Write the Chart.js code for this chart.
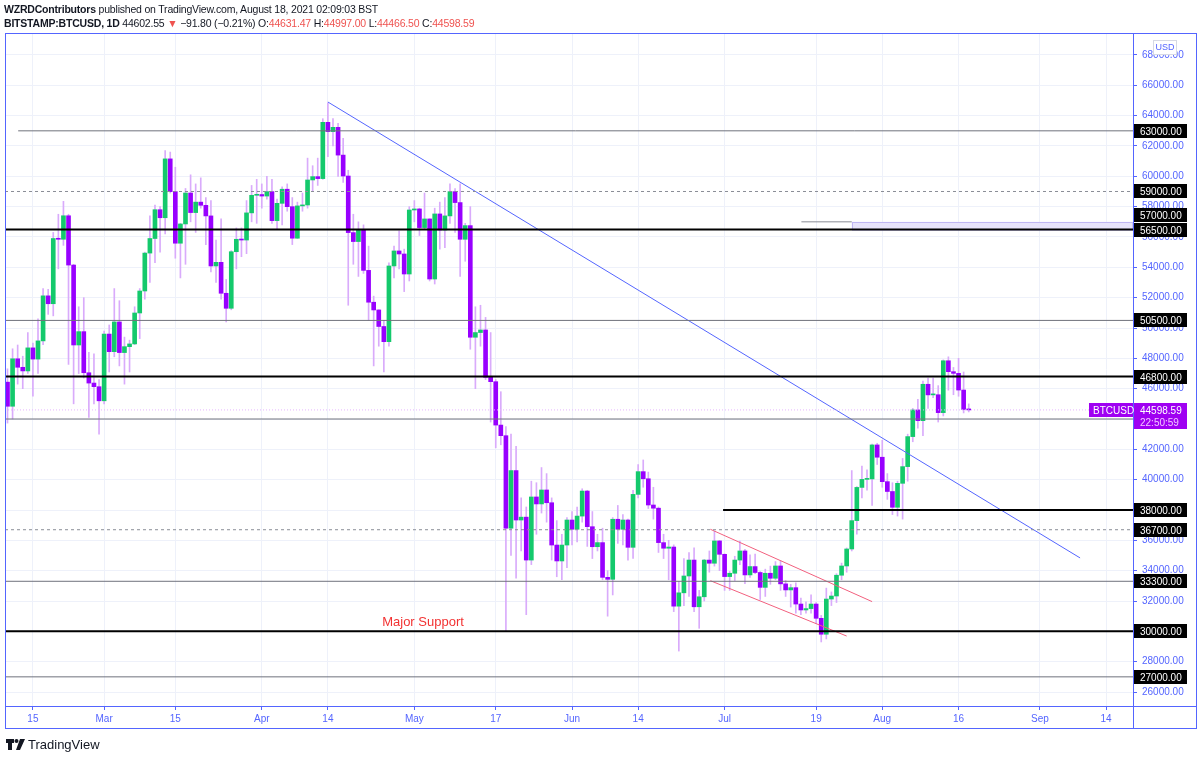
<!DOCTYPE html>
<html lang="en">
<head>
<meta charset="UTF-8">
<title>BITSTAMP:BTCUSD, 1D</title>
<script src="https://cdn.jsdelivr.net/npm/chart.js"></script>
<style>
    body {
        margin: 0;
        background: #fff;
        font-family: "Liberation Sans", Arial, sans-serif;
    }
    .wrap {
        position: relative;
        width: 1200px;
        height: 759px;
    }
    .head {
        position: absolute;
        left: 4px;
        font-size: 10.5px;
        letter-spacing: -0.2px;
        line-height: 14px;
        color: #131722;
        white-space: nowrap;
    }
    .head b { font-weight: bold; }
    .red { color: #ef5350; }
    .logo {
        position: absolute;
        left: 6px;
        top: 737px;
        font-size: 13px;
        color: #131722;
        display: flex;
        align-items: center;
        gap: 3px;
    }
</style>
</head>
<body>
<div class="wrap">
    <canvas id="chart" width="1200" height="759"></canvas>
    <div class="head" style="top:2px"><b>WZRDContributors</b> published on TradingView.com, August 18, 2021 02:09:03 BST</div>
    <div class="head" style="top:16px"><b>BITSTAMP:BTCUSD, 1D</b> 44602.55 <span class="red">▼</span> −91.80 (−0.21%) O:<span class="red">44631.47</span> H:<span class="red">44997.00</span> L:<span class="red">44466.50</span> C:<span class="red">44598.59</span></div>
    <div class="logo">
        <svg width="19" height="11" viewBox="0 0 19 11"><path d="M0 0h8v4H6v7H2V4H0z M14 0h5l-5 11h-4z" fill="#131722"/><circle cx="10.5" cy="2" r="2" fill="#131722"/></svg>
        <span>TradingView</span>
    </div>
</div>
<script>
    // days counted from Feb 15 2021; first candle is Feb 10
    const firstDay = -5;

    // daily OHLC, Feb 10 .. Aug 18 2021
    const opens = [
        46430,44840,47970,47410,47170,48690,47950,49150,52120,51600,55900,55850,57400,54150,48880,49760,47050,46370,46130,
        45200,49600,48440,50400,48380,48770,48950,50990,52440,54940,55900,57800,57270,61150,58990,55590,56860,58900,57610,58300,58090,57390,54090,54330,52290,51300,55030,55850,55800,57590,58750,
        58800,58700,58990,57080,58220,59150,58000,55920,58050,58110,59760,59980,59850,63560,62950,63230,61400,60020,56290,55700,56460,53800,51700,51190,50100,49100,54090,55080,54880,53560,
        57780,57850,56620,57190,53230,57520,56460,57390,58990,58270,55850,56750,49390,49700,49870,46750,46460,43600,42900,36800,40600,37340,37530,34700,38860,38400,39320,38480,35690,34640,35690,
        37340,36730,37600,39250,36900,35580,35850,33560,33430,37390,36730,37340,35540,39030,40530,40060,38330,38120,35850,35480,35560,31660,32540,33650,34700,31620,32280,34700,34490,35960,
        35080,33610,33830,34700,35300,33720,34270,33880,32900,33830,33500,34310,33130,32730,32880,31800,31410,31500,31800,30860,29810,32130,32330,33700,34310,35430,37300,39490,40020,40050,42290,
        41480,39870,39220,38180,39760,40860,42840,44600,43890,46290,45590,45600,44420,47840,47120,47010,45910,44631.47
    ];
    const highs = [
        47310,48630,48880,48140,49700,49000,50600,52600,52550,56300,57500,58350,57500,54200,51400,52000,48400,48300,46600,
        49800,50200,52600,51800,49400,49200,51400,52600,55000,57400,58100,58000,61700,61600,60600,56900,59200,60100,59500,59900,58600,58400,55800,57200,53200,55100,56600,56600,58400,59400,59800,
        59500,60000,59800,58500,59300,59500,58600,58300,58900,61200,60700,61200,63800,64850,63800,63500,62500,60400,57500,57000,56800,55400,52100,51200,50500,54300,55400,56400,55200,58000,
        58400,57900,58900,57200,57900,58300,58600,59500,59200,59500,56900,58000,51400,51500,50700,49700,46600,45800,43500,43000,42200,38800,38200,39900,39800,40800,40400,38800,37300,36400,37500,
        37900,38200,39400,39300,37900,36400,36800,34000,37500,38300,37700,37400,39300,41000,41300,40500,39500,38200,36400,36000,35700,33300,34800,35200,35500,32700,34750,35300,36600,36000,
        35100,33950,34950,35950,35400,35050,35100,33950,34100,34300,34600,34650,33350,33100,33200,32200,31950,32400,31900,31050,32850,32600,33800,34500,35500,40600,39550,40900,40650,42350,42400,
        42600,40400,39800,39900,41400,43000,44700,45300,46500,46700,46700,46200,47900,48100,47400,48000,47100,44997.00
    ];
    const lows = [
        43730,44000,46300,46000,47000,45500,47000,48900,50900,50800,53900,55450,47600,45000,47000,46700,44100,45000,43000,
        45000,47100,48100,47500,46300,47100,48900,49300,51900,53000,54300,55000,56200,58900,54600,53300,54200,57000,56300,57900,55500,53700,53000,51900,50400,51200,53900,54700,54900,57000,56900,
        57900,58500,56900,56500,56800,57700,55500,55900,57700,57900,59000,59400,59800,61300,62000,60000,59600,51500,54200,53400,53600,50500,47500,48800,47100,48800,53300,53900,52400,53100,
        57000,56100,56500,53100,52900,55200,55300,56900,56300,53400,54400,48600,46000,48800,46600,43800,42100,42300,30000,35000,33500,35300,31100,34400,36400,37800,37200,34700,33600,33400,34200,
        35700,35900,37200,35600,34800,35300,33400,31000,32400,35800,35700,34700,34800,38800,39500,38100,37400,35200,34800,33400,31300,28700,31700,32300,31300,30200,32000,33900,34300,34000,
        32700,32700,33350,34400,33150,33550,33800,32100,32300,33100,33400,32700,32300,31600,31200,31100,31200,31200,30500,29300,29500,31700,31900,33400,33900,35300,36400,38800,39300,38300,41000,
        39500,38700,37700,37600,37400,39900,42500,43400,42900,44700,45400,43800,44200,45900,45600,45500,44400,44466.50
    ];
    const closes = [
        44840,47970,47410,47170,48690,47950,49150,52120,51600,55900,55850,57400,54150,48880,49760,47050,46370,46130,45200,
        49600,48440,50400,48380,48770,48950,50990,52440,54940,55900,57800,57270,61150,58990,55590,56860,58900,57610,58300,58090,57390,54090,54330,52290,51300,55030,55850,55800,57590,58750,58800,
        58700,58990,57080,58220,59150,58000,55920,58050,58110,59760,59980,59850,63560,62950,63230,61400,60020,56290,55700,56460,53800,51700,51190,50100,49100,54090,55080,54880,53560,57780,
        57850,56620,57190,53230,57520,56460,57390,58990,58270,55850,56750,49390,49700,49870,46750,46460,43600,42900,36800,40600,37340,37530,34700,38860,38400,39320,38480,35690,34640,35690,37340,
        36730,37600,39250,36900,35580,35850,33560,33430,37390,36730,37340,35540,39030,40530,40060,38330,38120,35850,35480,35560,31660,32540,33650,34700,31620,32280,34700,34490,35960,35080,
        33610,33830,34700,35300,33720,34270,33880,32900,33830,33500,34310,33130,32730,32880,31800,31410,31500,31800,30860,29810,32130,32330,33700,34310,35430,37300,39490,40020,40050,42290,41480,
        39870,39220,38180,39760,40860,42840,44600,43890,46290,45590,45600,44420,47840,47120,47010,45910,44630,44598.59
    ];
    const lastPrice = 44598.59;
    const countdown = '22:50:59';

    // time axis
    const tickDays = [0, 14, 28, 45, 58, 75, 91, 106, 119, 136, 154, 167, 182, 198, 211];
    const tickLabels = ['15', 'Mar', '15', 'Apr', '14', 'May', '17', 'Jun', '14', 'Jul', '19', 'Aug', '16', 'Sep', '14'];

    // price axis
    const priceTicks = [26000, 28000, 30000, 32000, 34000, 36000, 38000, 40000, 42000, 44000, 46000,
        48000, 50000, 52000, 54000, 56000, 58000, 60000, 62000, 64000, 66000, 68000];

    // drawn levels and lines
    const levels = [63000, 59000, 57000, 56500, 50500, 46800, 44000, 38000, 36700, 33300, 30000, 27000];
    const trendLine = [[58, 64900], [205.9, 34840]];
    const channelTop = [[133.2, 36730], [165.0, 31960]];
    const channelBottom = [[133.2, 33340], [160.0, 29690]];
    const zone = {from: 161, top: 57000, bottom: 56500};
    const supportNote = {text: 'Major Support', day: 76.7, price: 30350};

    const xMin = -5.49, xMax = 216.3;
    const yMin = 25078, yMax = 69450;

    const blue = '#5465ff';
    const green = '#14c96c';
    const purple = '#9800ff';
    const wickColor = '#d9abfb';
    const grey = '#6f727c';
    const axisFont = {size: 10, family: '"Liberation Sans", Arial, sans-serif'};

    // labelShift moves the axis tag so close tags do not overlap
    const levelStyle = {
        63000: {from: -2.9, color: grey, width: 1},
        59000: {color: '#8a8d96', width: 1, dash: [3, 3]},
        57000: {from: 151.1, to: 161, color: '#8a8d96', width: 1, labelShift: -7},
        56500: {color: '#000', width: 2, labelShift: 1},
        50500: {color: grey, width: 1},
        46800: {color: '#000', width: 2},
        44000: {color: grey, width: 1},
        38000: {from: 135.7, color: '#000', width: 2},
        36700: {color: '#8a8d96', width: 1, dash: [3, 3]},
        33300: {color: grey, width: 1},
        30000: {color: '#000', width: 2},
        27000: {color: grey, width: 1}
    };

    function segment(a, b, color, width, dash) {
        return {
            type: 'line',
            data: [{x: a[0], y: a[1]}, {x: b[0], y: b[1]}],
            borderColor: color,
            borderWidth: width,
            borderDash: dash || [],
            pointRadius: 0,
            order: 1
        };
    }

    const lineSets = levels.map(v => {
        const s = levelStyle[v];
        return segment([s.from ?? xMin, v], [s.to ?? xMax, v], s.color, s.width, s.dash);
    });
    lineSets.push(segment([xMin, lastPrice], [xMax, lastPrice], '#e6b3ff', 1, [1, 2]));
    lineSets.push(segment(trendLine[0], trendLine[1], blue, 1));
    lineSets.push(segment(channelTop[0], channelTop[1], '#f2607e', 1));
    lineSets.push(segment(channelBottom[0], channelBottom[1], '#f2607e', 1));

    const wicks = highs.map((h, i) => ({x: firstDay + i, y: [lows[i], h]}));
    const bodies = opens.map((o, i) => ({x: firstDay + i, y: [o, closes[i]]}));
    const bodyColors = opens.map((o, i) => closes[i] >= o ? green : purple);

    const overlay = {
        id: 'overlay',
        beforeDatasetsDraw(chart) {
            const {ctx, chartArea, scales: {x, y}} = chart;
            const x0 = x.getPixelForValue(zone.from);
            const y0 = y.getPixelForValue(zone.top);
            const y1 = y.getPixelForValue(zone.bottom);
            ctx.save();
            ctx.fillStyle = '#e7e3fb';
            ctx.fillRect(x0, y0, chartArea.right - x0, y1 - y0);
            ctx.strokeStyle = '#bfb6f3';
            ctx.lineWidth = 1;
            ctx.strokeRect(Math.round(x0) + 0.5, Math.round(y0) + 0.5, chartArea.right - x0 - 1, y1 - y0);
            ctx.restore();
        },
        afterDraw(chart) {
            const {ctx, chartArea, scales: {x, y}} = chart;
            ctx.save();

            // note text
            ctx.fillStyle = '#f23232';
            ctx.font = '13px "Liberation Sans", Arial, sans-serif';
            ctx.textAlign = 'center';
            ctx.textBaseline = 'alphabetic';
            ctx.fillText(supportNote.text, x.getPixelForValue(supportNote.day), y.getPixelForValue(supportNote.price));

            // frame
            ctx.strokeStyle = blue;
            ctx.lineWidth = 1;
            ctx.strokeRect(5.5, 33.5, 1191, 695);
            ctx.beginPath();
            ctx.moveTo(chartArea.right + 0.5, 33);
            ctx.lineTo(chartArea.right + 0.5, 729);
            ctx.moveTo(5, chartArea.bottom + 0.5);
            ctx.lineTo(1197, chartArea.bottom + 0.5);
            ctx.stroke();

            // USD badge
            ctx.fillStyle = '#fff';
            ctx.fillRect(1153, 40, 23, 14);
            ctx.strokeStyle = '#d6d9e4';
            ctx.strokeRect(1153.5, 40.5, 23, 14);
            ctx.fillStyle = blue;
            ctx.font = '9px "Liberation Sans", Arial, sans-serif';
            ctx.textAlign = 'center';
            ctx.textBaseline = 'middle';
            ctx.fillText('USD', 1165, 48);

            // level price labels
            ctx.font = '10px "Liberation Sans", Arial, sans-serif';
            ctx.textAlign = 'left';
            levels.forEach(v => {
                const py = Math.round(y.getPixelForValue(v)) + (levelStyle[v].labelShift || 0);
                ctx.fillStyle = '#000';
                ctx.fillRect(chartArea.right + 1, py - 7, 53, 14);
                ctx.fillStyle = '#fff';
                ctx.fillText(v.toFixed(2), chartArea.right + 7, py + 1);
            });

            // last price label
            const py = Math.round(y.getPixelForValue(lastPrice));
            ctx.fillStyle = '#9f00f2';
            ctx.fillRect(chartArea.right - 44, py - 7, 44, 14);
            ctx.fillRect(chartArea.right + 1, py - 7, 53, 26);
            ctx.fillStyle = '#fff';
            ctx.fillText('BTCUSD', chartArea.right - 40, py + 1);
            ctx.fillText(lastPrice.toFixed(2), chartArea.right + 7, py + 1);
            ctx.fillStyle = '#f3c6ff';
            ctx.fillText(countdown, chartArea.right + 7, py + 13);
            ctx.restore();
        }
    };

    new Chart(document.getElementById('chart'), {
        type: 'bar',
        data: {
            datasets: [
                ...lineSets,
                {
                    data: bodies,
                    backgroundColor: bodyColors,
                    barThickness: 4,
                    minBarLength: 1,
                    grouped: false,
                    borderSkipped: false,
                    order: 2
                },
                {
                    data: wicks,
                    backgroundColor: wickColor,
                    barThickness: 1,
                    grouped: false,
                    borderSkipped: false,
                    order: 3
                }
            ]
        },
        options: {
            responsive: false,
            animation: false,
            layout: {padding: {top: 33, left: 5, right: 3, bottom: 30}},
            plugins: {legend: {display: false}, tooltip: {enabled: false}},
            scales: {
                x: {
                    type: 'linear',
                    min: xMin,
                    max: xMax,
                    offset: false,
                    afterBuildTicks: s => { s.ticks = tickDays.map(v => ({value: v})); },
                    afterFit: s => { s.height = 23; },
                    ticks: {
                        autoSkip: false,
                        maxRotation: 0,
                        padding: 3,
                        color: blue,
                        font: axisFont,
                        callback: v => tickLabels[tickDays.indexOf(v)]
                    },
                    grid: {offset: false, color: '#eef1fa', tickColor: blue, tickLength: 4},
                    border: {color: blue}
                },
                y: {
                    position: 'right',
                    min: yMin,
                    max: yMax,
                    afterBuildTicks: s => { s.ticks = priceTicks.map(v => ({value: v})); },
                    afterFit: s => { s.width = 64; },
                    ticks: {
                        autoSkip: false,
                        padding: 5,
                        color: blue,
                        font: axisFont,
                        callback: v => v.toFixed(2)
                    },
                    grid: {color: '#eef1fa', tickColor: blue, tickLength: 4},
                    border: {color: blue}
                }
            }
        },
        plugins: [overlay]
    });
</script>
</body>
</html>
